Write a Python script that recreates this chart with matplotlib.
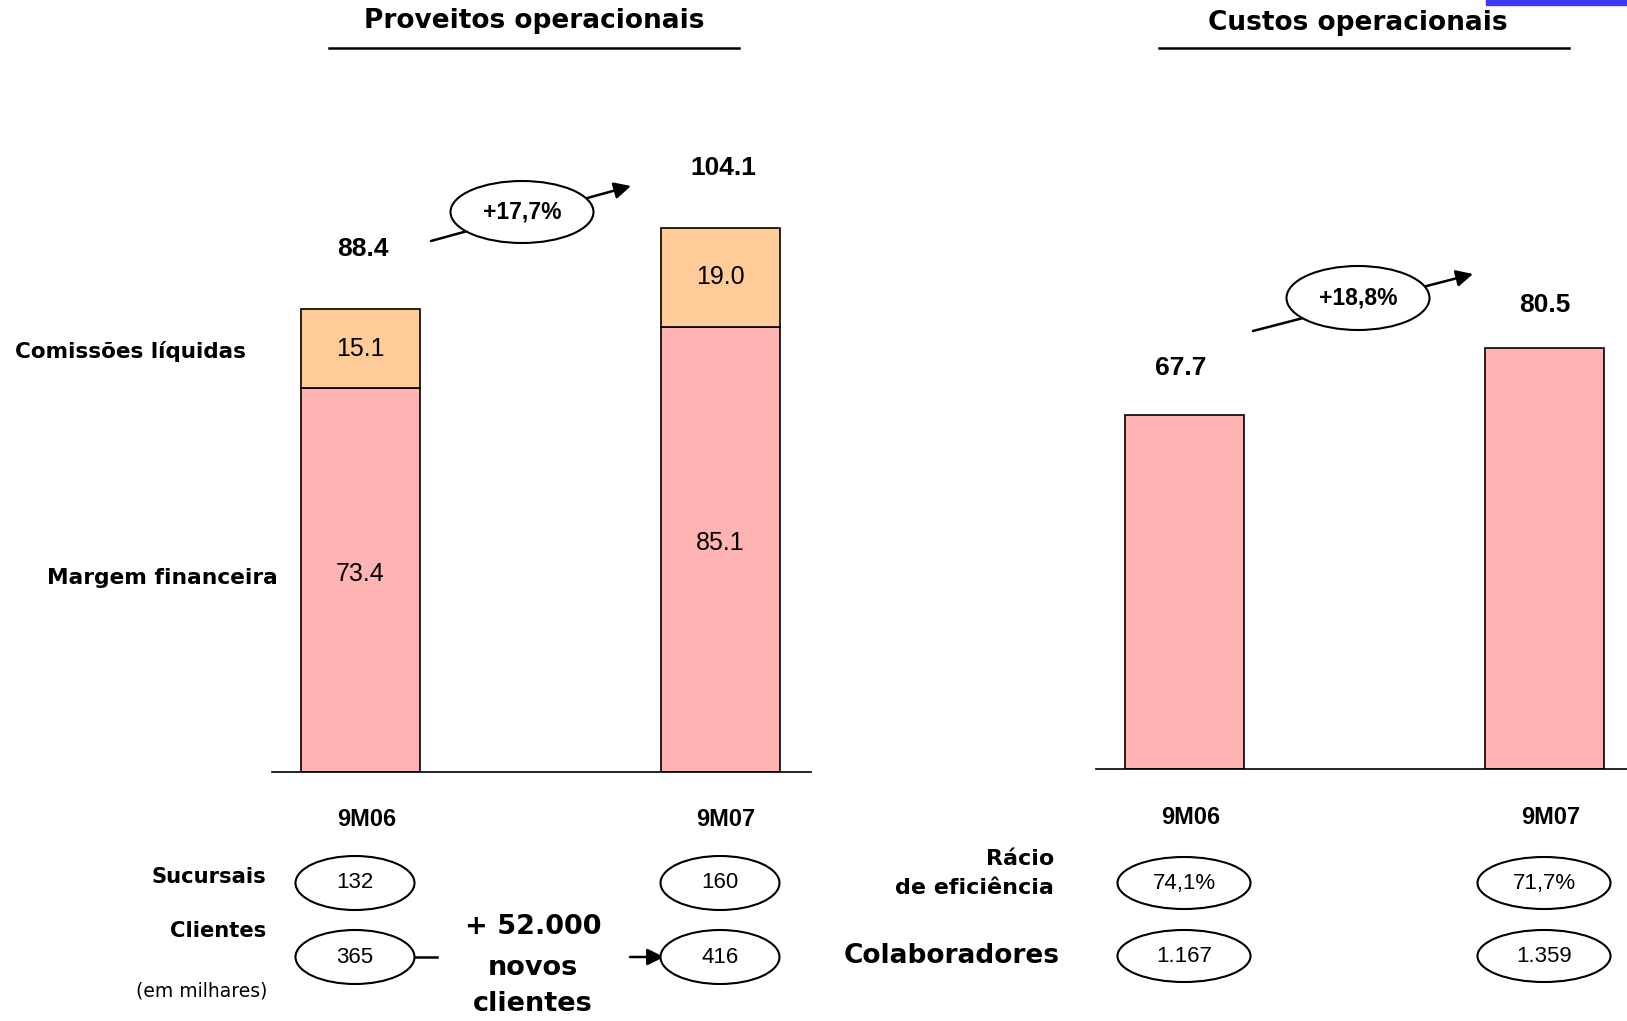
import matplotlib.pyplot as plt
from matplotlib.patches import Ellipse, Rectangle

# data
periods = ['9M06', '9M07']
margem = [73.4, 85.1]
comissoes = [15.1, 19.0]
proveitos = [88.4, 104.1]
custos = [67.7, 80.5]
prov_growth = '+17,7%'
cust_growth = '+18,8%'
sucursais = ['132', '160']
clientes = ['365', '416']
eficiencia = ['74,1%', '71,7%']
colaboradores = ['1.167', '1.359']

W, H = 1627, 1021
PINK = '#ffb3b3'
ORANGE = '#ffcc99'
NUM = ['Liberation Sans', 'DejaVu Sans']
LAB = ['DejaVu Sans']

fig = plt.figure(figsize=(W / 100, H / 100), dpi=100)

def fx(x):
    return x / W

def fy(y):
    return 1 - y / H

def txt(x, y, s, size, weight='bold', ha='center', family=LAB, **kw):
    fig.text(fx(x), fy(y), s, fontsize=size, fontweight=weight, ha=ha,
             va='center', family=family, **kw)

def oval(x, y, w, h, s, size, weight='normal'):
    e = Ellipse((fx(x), fy(y)), w / W, h / H, transform=fig.transFigure,
                facecolor='white', edgecolor='black', lw=1.5, zorder=5)
    fig.add_artist(e)
    fig.text(fx(x), fy(y), s, fontsize=size, fontweight=weight, ha='center',
             va='center', family=NUM, zorder=6)

def line(x0, y0, x1, y1, arrow=False):
    if arrow:
        fig.add_artist(plt.Annotation('', xy=(fx(x1), fy(y1)), xytext=(fx(x0), fy(y0)),
                                      xycoords='figure fraction',
                                      arrowprops=dict(arrowstyle='-|>', color='black', lw=1.8,
                                                      mutation_scale=25, shrinkA=0, shrinkB=0)))
    else:
        fig.add_artist(plt.Line2D([fx(x0), fx(x1)], [fy(y0), fy(y1)], color='black', lw=1.8))

PXU = 5.23  # pixels per unit

def make_axes(x0, x1, base, xl, xr):
    top = 100
    ax = fig.add_axes([fx(x0), fy(base), (x1 - x0) / W, (base - top) / H])
    ax.set_xlim(xl, xr)
    ax.set_ylim(0, (base - top) / PXU)
    for s in ['top', 'right', 'left']:
        ax.spines[s].set_visible(False)
    ax.spines['bottom'].set_linewidth(1.2)
    ax.set_xticks([])
    ax.set_yticks([])
    ax.patch.set_alpha(0)
    return ax

# left chart: stacked bars
ax1 = make_axes(272, 811, 772, -0.2458, 1.251)
xs = [0, 1]
ax1.bar(xs, margem, width=0.33, color=PINK, edgecolor='black', lw=1.2)
ax1.bar(xs, comissoes, bottom=margem, width=0.33, color=ORANGE, edgecolor='black', lw=1.2)
for i in range(2):
    ax1.text(xs[i], margem[i] * 0.515, f'{margem[i]:.1f}', ha='center', va='center',
             fontsize=18, family=NUM)
    ax1.text(xs[i], margem[i] + comissoes[i] / 2, f'{comissoes[i]:.1f}', ha='center',
             va='center', fontsize=18, family=NUM)

# right chart
ax2 = make_axes(1096, 1627, 769, -0.2458, 1.229)
ax2.bar(xs, custos, width=0.33, color=PINK, edgecolor='black', lw=1.2)

# titles
txt(534, 21, 'Proveitos operacionais', 19)
line(329, 48, 739, 48)
txt(1358, 23, 'Custos operacionais', 19)
line(1159, 48, 1569, 48)
fig.add_artist(Rectangle((fx(1486), fy(5)), (W - 1486) / W, 5 / H,
                         transform=fig.transFigure, color='#3b3bf5'))

# totals
txt(363, 249, f'{proveitos[0]:.1f}', 19, family=NUM)
txt(723, 168, f'{proveitos[1]:.1f}', 19, family=NUM)
txt(1181, 368, f'{custos[0]:.1f}', 19, family=NUM)
txt(1545, 305, f'{custos[1]:.1f}', 19, family=NUM)

# series labels
txt(15, 351, 'Comissões líquidas', 15.5, ha='left')
txt(47, 578, 'Margem financeira', 15.7, ha='left')

# growth arrows
line(431, 241, 631, 186, arrow=True)
oval(522, 212, 143, 62, prov_growth, 16.5, 'bold')
line(1253, 331, 1473, 274, arrow=True)
oval(1358, 298, 143, 64, cust_growth, 16.5, 'bold')

# period labels
for x, y, p in [(367, 820, periods[0]), (726, 820, periods[1]),
                (1191, 817, periods[0]), (1551, 817, periods[1])]:
    txt(x, y, p, 17, family=NUM)

# bottom left table
txt(266, 877, 'Sucursais', 15.2, ha='right')
txt(266, 931, 'Clientes', 15.2, ha='right')
txt(267, 991, '(em milhares)', 13.5, weight='normal', ha='right')
oval(355, 883, 119, 54, sucursais[0], 16)
oval(720, 883, 119, 54, sucursais[1], 16)
line(405, 957, 437, 957)
line(630, 957, 664, 957, arrow=True)
oval(355, 957, 119, 54, clientes[0], 16)
oval(720, 957, 119, 54, clientes[1], 16)
txt(533, 927, '+ 52.000', 19.5)
txt(533, 968, 'novos', 19.5)
txt(533, 1004, 'clientes', 19.5)

# bottom right table
txt(1054, 859, 'Rácio', 16, ha='right')
txt(1054, 888, 'de eficiência', 16, ha='right')
txt(1060, 956, 'Colaboradores', 19, ha='right')
oval(1184, 883, 133, 52, eficiencia[0], 16)
oval(1544, 883, 133, 52, eficiencia[1], 16)
oval(1184, 956, 133, 52, colaboradores[0], 16)
oval(1544, 956, 133, 52, colaboradores[1], 16)

fig.savefig('out.png', dpi=100)
